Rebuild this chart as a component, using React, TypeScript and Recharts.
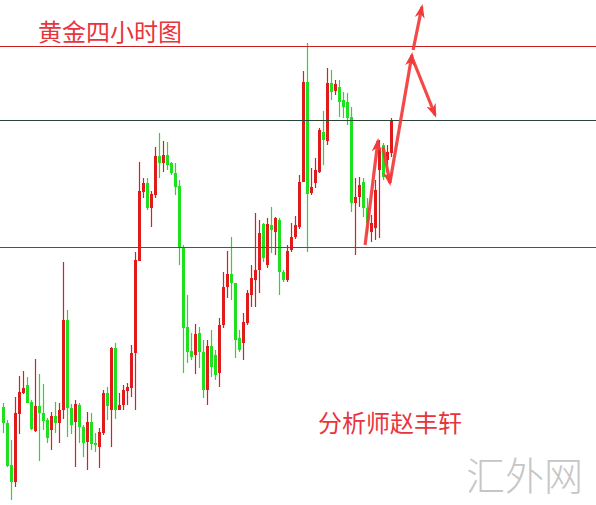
import React from 'react';
import { ComposedChart, Bar, XAxis, YAxis, ReferenceLine } from 'recharts';

// 4-hour gold candles (red = up, green = down)
const openPrices = [
  1299.3, 1297.7, 1293.5, 1291.8, 1298.6, 1300.7, 1301.5, 1299.8, 1296.9, 1299.4,
  1298.7, 1298.0, 1297.0, 1298.4, 1297.7, 1299.0, 1308.0, 1299.2, 1297.8, 1299.5,
  1297.3, 1295.8, 1297.8, 1295.7, 1295.3, 1296.7, 1300.7, 1299.0, 1305.2, 1299.0,
  1299.5, 1300.9, 1301.2, 1304.7, 1313.9, 1320.8, 1321.7, 1319.2, 1320.5, 1324.4,
  1323.7, 1324.5, 1323.7, 1322.7, 1321.4, 1315.2, 1307.3, 1304.9, 1304.5, 1306.7,
  1304.8, 1301.0, 1305.4, 1304.5, 1302.7, 1307.5, 1311.3, 1312.6, 1311.7, 1306.2,
  1305.7, 1307.7, 1310.5, 1312.0, 1313.0, 1317.6, 1313.5, 1317.5, 1316.8, 1318.0,
  1312.8, 1312.0, 1315.0, 1316.3, 1317.3, 1321.8, 1331.8, 1320.7, 1321.7, 1322.8,
  1326.8, 1325.9, 1331.7, 1330.9, 1331.3, 1330.0, 1329.8, 1328.3, 1319.7, 1320.3,
  1321.8, 1319.2, 1316.8, 1317.2, 1323.0, 1325.5, 1324.0, 1324.7,
];
const highPrices = [
  1299.7, 1298.0, 1296.0, 1300.3, 1302.4, 1302.9, 1302.3, 1300.0, 1304.1, 1302.6,
  1301.6, 1298.2, 1298.8, 1299.8, 1299.7, 1313.8, 1309.0, 1299.6, 1300.0, 1299.7,
  1297.5, 1298.8, 1298.7, 1296.7, 1297.2, 1301.0, 1301.3, 1305.3, 1305.7, 1300.7,
  1301.5, 1301.7, 1305.5, 1314.8, 1323.8, 1322.2, 1322.2, 1320.9, 1325.3, 1326.7,
  1325.9, 1325.8, 1323.8, 1323.7, 1322.0, 1315.5, 1310.5, 1306.7, 1307.6, 1307.3,
  1306.0, 1306.0, 1307.0, 1305.0, 1308.2, 1312.8, 1314.9, 1316.3, 1311.7, 1307.0,
  1308.7, 1311.0, 1313.5, 1318.7, 1318.0, 1317.7, 1318.2, 1319.3, 1318.3, 1318.2,
  1313.0, 1315.5, 1317.7, 1318.4, 1322.5, 1332.9, 1335.7, 1323.2, 1324.2, 1327.2,
  1328.9, 1333.2, 1333.0, 1332.0, 1332.0, 1330.8, 1330.7, 1329.3, 1322.2, 1322.3,
  1322.2, 1320.2, 1318.5, 1322.0, 1326.0, 1325.7, 1325.5, 1328.2,
];
const lowPrices = [
  1296.7, 1293.3, 1290.0, 1291.3, 1296.6, 1300.6, 1299.7, 1297.0, 1296.8, 1293.9,
  1297.0, 1295.7, 1295.0, 1296.7, 1295.7, 1298.1, 1296.3, 1296.6, 1293.3, 1295.7,
  1294.3, 1293.0, 1295.0, 1294.8, 1293.2, 1296.5, 1298.0, 1295.3, 1298.1, 1299.0,
  1299.0, 1299.5, 1300.3, 1299.0, 1313.9, 1320.2, 1319.0, 1317.3, 1320.2, 1322.2,
  1322.8, 1323.0, 1322.5, 1320.5, 1313.5, 1302.7, 1303.7, 1304.0, 1302.6, 1303.2,
  1300.2, 1299.5, 1302.3, 1302.0, 1301.3, 1307.2, 1310.2, 1310.0, 1304.2, 1304.8,
  1304.0, 1307.5, 1309.3, 1309.3, 1310.7, 1313.8, 1313.2, 1314.7, 1314.5, 1310.5,
  1311.8, 1311.8, 1314.8, 1316.1, 1317.1, 1321.8, 1314.8, 1320.5, 1321.2, 1322.7,
  1323.5, 1325.5, 1330.0, 1330.5, 1328.3, 1328.2, 1327.5, 1318.8, 1314.5, 1319.3,
  1318.3, 1316.7, 1315.8, 1316.0, 1316.2, 1322.0, 1323.5, 1324.3,
];
const closePrices = [
  1297.7, 1293.4, 1291.8, 1298.7, 1300.8, 1301.2, 1299.7, 1297.1, 1299.4, 1298.7,
  1297.9, 1296.2, 1298.4, 1297.7, 1299.0, 1308.0, 1299.2, 1297.5, 1299.6, 1297.3,
  1295.7, 1297.8, 1295.6, 1295.5, 1296.8, 1300.7, 1299.4, 1305.2, 1299.0, 1299.5,
  1301.0, 1301.3, 1304.7, 1314.0, 1320.9, 1321.7, 1319.2, 1320.6, 1324.4, 1323.7,
  1324.5, 1323.5, 1322.7, 1321.3, 1315.3, 1307.2, 1304.8, 1304.3, 1306.6, 1304.8,
  1301.0, 1305.4, 1303.3, 1302.5, 1307.5, 1311.3, 1312.6, 1311.7, 1306.0, 1305.0,
  1307.8, 1310.7, 1312.2, 1313.0, 1316.7, 1314.2, 1317.6, 1317.0, 1318.2, 1312.8,
  1312.0, 1314.9, 1316.3, 1317.5, 1321.8, 1331.8, 1320.6, 1321.3, 1323.0, 1327.0,
  1326.0, 1331.7, 1330.8, 1331.6, 1329.8, 1329.3, 1328.2, 1319.7, 1320.3, 1321.5,
  1319.2, 1317.7, 1317.7, 1321.0, 1325.2, 1322.3, 1324.8, 1328.0,
];

// horizontal levels
const resistanceLevel = 1335.35;
const pivotLevel = 1327.95;
const supportLevel = 1315.25;

// hand-drawn arrows: [fromIndex, fromPrice, toIndex, toPrice]
const arrows = [
  [90.4, 1315.5, 93.6, 1325.9],
  [94.9, 1325.3, 96.6, 1321.7],
  [96.6, 1321.7, 102.1, 1334.5],
  [102.4, 1335.0, 104.6, 1339.3],
  [102.1, 1334.3, 107.9, 1328.5],
];

const UP = '#e01b1b';
const DOWN = '#1ee01e';
const ARROW = '#f23a3a';

const rows = openPrices.map((o, i) => ({
  i,
  open: o,
  high: highPrices[i],
  low: lowPrices[i],
  close: closePrices[i],
  range: [lowPrices[i], highPrices[i]],
}));

function Candle(props: any) {
  const { x, y, width, height, payload } = props;
  if (!payload) return null;
  const { open, close, high, low } = payload;
  const top = Math.min(y, y + height);
  const h = Math.abs(height);
  const per = high - low > 0 ? h / (high - low) : 0;
  const cx = Math.round(x + width / 2) + 0.5;
  const bodyTop = top + (high - Math.max(open, close)) * per;
  const bodyH = Math.max(1, Math.abs(open - close) * per);
  const color = close >= open ? UP : DOWN;
  return (
    <g>
      <line x1={cx} x2={cx} y1={top} y2={top + h} stroke={color} strokeWidth={1.2} />
      <rect x={cx - 1.5} y={bodyTop} width={3} height={bodyH} fill={color} />
    </g>
  );
}

export default function App() {
  return (
    <div style={{ position: 'fixed', left: 0, top: 0, width: 596, height: 505, background: '#fff' }}>
      <svg width={0} height={0} style={{ position: 'absolute' }}>
        <defs>
          <marker
            id="arrowHead"
            markerUnits="userSpaceOnUse"
            markerWidth={14}
            markerHeight={10}
            refX={11}
            refY={5}
            orient="auto"
          >
            <path d="M0,0 L14,5 L0,10 L4,5 Z" fill={ARROW} />
          </marker>
        </defs>
      </svg>
      <ComposedChart
        width={596}
        height={505}
        data={rows}
        margin={{ top: 0, right: 0, bottom: 0, left: 0 }}
      >
        <XAxis dataKey="i" type="number" domain={[-0.875, 148.125]} hide />
        <YAxis type="number" domain={[1289.5, 1340]} hide allowDataOverflow />
        <ReferenceLine y={resistanceLevel} stroke="#c82020" strokeWidth={1} />
        <ReferenceLine y={pivotLevel} stroke="#2a4438" strokeWidth={1} />
        <ReferenceLine y={supportLevel} stroke="#c82020" strokeWidth={1} />
        <Bar dataKey="range" barSize={3} shape={<Candle />} isAnimationActive={false} />
        {arrows.map((a, k) => (
          <ReferenceLine
            key={k}
            segment={[
              { x: a[0], y: a[1] },
              { x: a[2], y: a[3] },
            ]}
            stroke={ARROW}
            strokeWidth={3.2}
            strokeOpacity={0.92}
            markerEnd="url(#arrowHead)"
            ifOverflow="visible"
          />
        ))}
      </ComposedChart>
      <div
        style={{
          position: 'absolute',
          left: 38,
          top: 19,
          fontFamily: '"Noto Sans CJK SC", sans-serif',
          fontSize: 24,
          lineHeight: 1,
          color: '#e8343c',
          whiteSpace: 'nowrap',
        }}
      >
        黄金四小时图
      </div>
      <div
        style={{
          position: 'absolute',
          left: 318,
          top: 410,
          fontFamily: '"Noto Sans CJK SC", sans-serif',
          fontSize: 24,
          lineHeight: 1,
          color: '#e8343c',
          whiteSpace: 'nowrap',
        }}
      >
        分析师赵丰轩
      </div>
      <div
        style={{
          position: 'absolute',
          left: 466,
          top: 454,
          fontFamily: '"Noto Sans CJK SC", sans-serif',
          fontWeight: 300,
          fontSize: 39,
          lineHeight: 1,
          color: '#c6c6c6',
          whiteSpace: 'nowrap',
        }}
      >
        汇外网
      </div>
    </div>
  );
}
